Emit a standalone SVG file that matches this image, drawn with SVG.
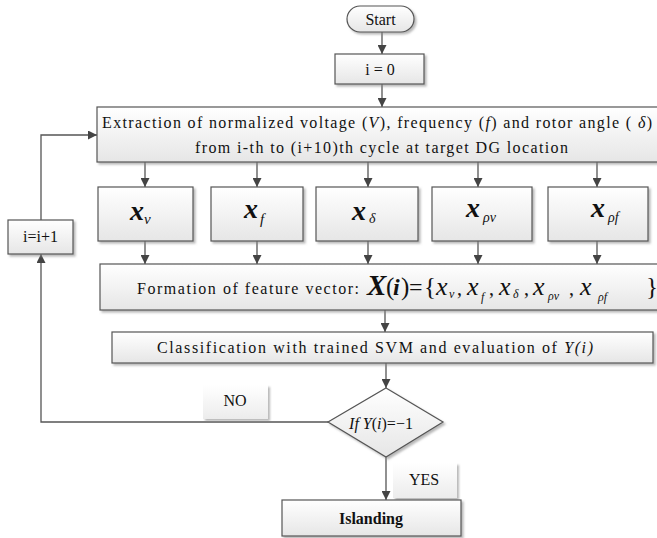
<svg xmlns="http://www.w3.org/2000/svg" width="657" height="538" viewBox="0 0 657 538">
<style>
.box{fill:url(#g);stroke:#555;stroke-width:1.2;filter:url(#sh)}
.lab{fill:url(#g2);stroke:none;filter:url(#sh)}
.t{font-family:"Liberation Serif","Times New Roman",serif;font-size:16px;fill:#111}
.c{text-anchor:middle}
.it{font-style:italic}
.m{font-family:"Liberation Serif","Times New Roman",serif;font-style:italic;font-weight:bold;fill:#111}
.s{font-family:"Liberation Serif","Times New Roman",serif;font-style:italic;font-weight:normal;fill:#111}
.n{font-family:"Liberation Serif","Times New Roman",serif;font-style:normal;font-weight:normal;fill:#111}
.ln{fill:none;stroke:#555;stroke-width:1.3}
</style>
<defs>
<linearGradient id="g" x1="0" y1="0" x2="0" y2="1"><stop offset="0" stop-color="#ffffff"/><stop offset="1" stop-color="#e6e6e6"/></linearGradient>
<linearGradient id="g2" x1="0" y1="0" x2="0" y2="1"><stop offset="0" stop-color="#ffffff"/><stop offset="1" stop-color="#ececec"/></linearGradient>
<filter id="sh" x="-10%" y="-10%" width="130%" height="140%"><feDropShadow dx="2" dy="2" stdDeviation="1" flood-color="#888" flood-opacity="0.6"/></filter>
<marker id="a" viewBox="0 0 10 10" refX="10" refY="5" markerWidth="9" markerHeight="9" markerUnits="userSpaceOnUse" orient="auto"><path d="M0,0 L10,5 L0,10 z" fill="#444"/></marker>
</defs>

<g id="connectors">
<line class="ln" x1="382" y1="32" x2="382" y2="54" marker-end="url(#a)"/>
<line class="ln" x1="382" y1="84" x2="382" y2="107" marker-end="url(#a)"/>
<line class="ln" x1="145" y1="162" x2="145" y2="187" marker-end="url(#a)"/>
<line class="ln" x1="257" y1="162" x2="257" y2="187" marker-end="url(#a)"/>
<line class="ln" x1="368" y1="162" x2="368" y2="187" marker-end="url(#a)"/>
<line class="ln" x1="478" y1="162" x2="478" y2="187" marker-end="url(#a)"/>
<line class="ln" x1="597" y1="162" x2="597" y2="187" marker-end="url(#a)"/>
<line class="ln" x1="145" y1="241" x2="145" y2="264" marker-end="url(#a)"/>
<line class="ln" x1="257" y1="241" x2="257" y2="264" marker-end="url(#a)"/>
<line class="ln" x1="368" y1="241" x2="368" y2="264" marker-end="url(#a)"/>
<line class="ln" x1="478" y1="241" x2="478" y2="264" marker-end="url(#a)"/>
<line class="ln" x1="597" y1="241" x2="597" y2="264" marker-end="url(#a)"/>
<line class="ln" x1="385" y1="310" x2="385" y2="332" marker-end="url(#a)"/>
<line class="ln" x1="386" y1="363" x2="386" y2="388" marker-end="url(#a)"/>
<line class="ln" x1="386" y1="457" x2="386" y2="500" marker-end="url(#a)"/>
<polyline class="ln" points="328,422 41,422 41,254" marker-end="url(#a)"/>
<polyline class="ln" points="41,220 41,135 97,135" marker-end="url(#a)"/>
</g>

<g id="start">
<rect class="box" x="347" y="6" width="67" height="26" rx="13"/>
<text class="t c" x="380.5" y="25">Start</text>
</g>

<g id="init">
<rect class="box" x="335" y="54" width="89" height="30"/>
<text class="t c" x="380" y="75">i = 0</text>
</g>

<g id="extract">
<rect class="box" x="97" y="107" width="562" height="55"/>
<text class="t" x="102" y="128" textLength="550" lengthAdjust="spacing">Extraction of normalized voltage (<tspan class="it">V</tspan>), frequency (<tspan class="it">f</tspan>) and rotor angle ( <tspan class="it">δ</tspan>)</text>
<text class="t" x="195" y="153" textLength="373" lengthAdjust="spacing">from i-th to (i+10)th cycle at target DG location</text>
</g>

<g id="fv">
<rect class="box" x="98" y="187" width="95" height="54"/>
<text x="130" y="220"><tspan class="m" font-size="28">x</tspan><tspan class="s" font-size="15" dy="4">v</tspan></text>
</g>
<g id="ff">
<rect class="box" x="211" y="187" width="92" height="54"/>
<text x="244" y="218"><tspan class="m" font-size="28">x</tspan><tspan class="s" font-size="15" dx="2" dy="6">f</tspan></text>
</g>
<g id="fd">
<rect class="box" x="316" y="187" width="102" height="54"/>
<text x="352" y="220"><tspan class="m" font-size="28">x</tspan><tspan class="s" font-size="14" dx="3" dy="3">δ</tspan></text>
</g>
<g id="fpv">
<rect class="box" x="432" y="187" width="100" height="54"/>
<text x="466" y="217"><tspan class="m" font-size="28">x</tspan><tspan class="s" font-size="14" dx="3" dy="5">ρv</tspan></text>
</g>
<g id="fpf">
<rect class="box" x="548" y="187" width="100" height="54"/>
<text x="591" y="217"><tspan class="m" font-size="28">x</tspan><tspan class="s" font-size="14" dx="3" dy="5">ρf</tspan></text>
</g>

<g id="formation">
<rect class="box" x="100" y="264" width="559" height="46"/>
<text class="t" x="137" y="294" textLength="222" lengthAdjust="spacing">Formation of feature vector:</text>
<text y="295"><tspan class="m" font-size="29" x="367">X</tspan><tspan class="n" font-size="25" x="386">(</tspan><tspan class="m" font-size="24" x="393">i</tspan><tspan class="n" font-size="25" x="401">)</tspan><tspan class="n" font-size="24" x="409">=</tspan><tspan class="n" font-size="25" x="424">{</tspan><tspan class="s" font-size="26" x="436">x</tspan><tspan class="s" font-size="12" x="449" dy="3">v</tspan><tspan class="n" font-size="20" x="457" dy="-3">,</tspan><tspan class="s" font-size="26" x="467">x</tspan><tspan class="s" font-size="12" x="481" dy="6">f</tspan><tspan class="n" font-size="20" x="489" dy="-6">,</tspan><tspan class="s" font-size="26" x="499">x</tspan><tspan class="s" font-size="12" x="513" dy="3">δ</tspan><tspan class="n" font-size="20" x="524" dy="-3">,</tspan><tspan class="s" font-size="26" x="533">x</tspan><tspan class="s" font-size="12" x="548" dy="5">ρv</tspan><tspan class="n" font-size="20" x="569" dy="-5">,</tspan><tspan class="s" font-size="26" x="580">x</tspan><tspan class="s" font-size="12" x="598" dy="6">ρf</tspan><tspan class="n" font-size="25" x="646" dy="-6">}</tspan></text>
</g>

<g id="classify">
<rect class="box" x="112" y="332" width="541" height="31"/>
<text class="t" x="157" y="353" textLength="436" lengthAdjust="spacing">Classification with trained SVM and evaluation of <tspan class="it">Y(i)</tspan></text>
</g>

<g id="decision">
<polygon class="box" points="386,388 443,422 386,457 328,422"/>
<text class="t c" x="381" y="429"><tspan class="it">If Y</tspan>(<tspan class="it">i</tspan>)=−1</text>
</g>

<g id="inc">
<rect class="box" x="8" y="220" width="65" height="34"/>
<text class="t c" x="40.5" y="242">i=i+1</text>
</g>

<g id="no-label">
<rect class="lab" x="203" y="385" width="65" height="34"/>
<text class="t c" x="235" y="406">NO</text>
</g>

<g id="yes-label">
<rect class="lab" x="393" y="463" width="64" height="35"/>
<text class="t c" x="424" y="485">YES</text>
</g>

<g id="islanding">
<rect class="box" x="282" y="500" width="179" height="36"/>
<text class="t c" x="371" y="524" font-weight="bold" font-size="17">Islanding</text>
</g>
</svg>
